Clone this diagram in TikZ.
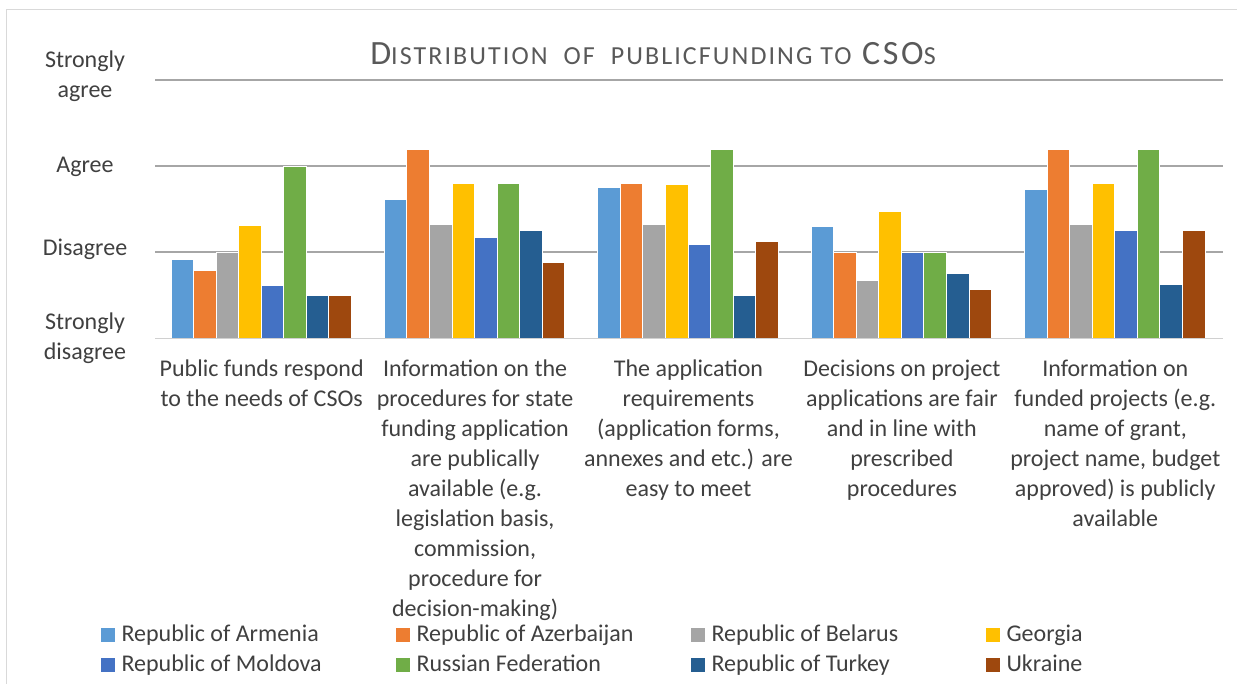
\documentclass[tikz,border=0pt]{standalone}
\usepackage{fontspec}
\setmainfont{Carlito}
\newfontfamily\titlefont[LetterSpace=8]{Carlito}
\usepackage{xcolor}
\usetikzlibrary{positioning}

\definecolor{ser0}{HTML}{5B9BD5}
\definecolor{ser1}{HTML}{ED7D31}
\definecolor{ser2}{HTML}{A5A5A5}
\definecolor{ser3}{HTML}{FFC000}
\definecolor{ser4}{HTML}{4472C4}
\definecolor{ser5}{HTML}{70AD47}
\definecolor{ser6}{HTML}{255E91}
\definecolor{ser7}{HTML}{9E480E}
\definecolor{txt}{HTML}{404040}
\definecolor{titc}{HTML}{595959}
\definecolor{gridc}{HTML}{A6A6A6}
\definecolor{basec}{HTML}{D0D0D0}
\definecolor{framec}{HTML}{D9D9D9}
\newcommand{\smc}[1]{{\fontsize{19.5}{22}\selectfont #1}}

\begin{document}
\begin{tikzpicture}[x=0.75pt, y=-0.75pt, font=\fontsize{18}{22.5}\selectfont,
		lbl/.style={align=center, inner sep=0pt, text=txt},
		bar/.style={draw=white, line width=0.4pt},
		key/.style={minimum size=10.5pt, inner sep=0pt}]
		\useasboundingbox (0,0) rectangle (1237,684);
		\fill[white] (0,0) rectangle (1237,684);
		\draw[framec, line width=1.1pt] (6.5,684) -- (6.5,9.5) -- (1237,9.5);
		\node[anchor=base, inner sep=0pt, text=titc] (title) at (653,65) {\titlefont\fontsize{25.5}{30}\selectfont D\smc{ISTRIBUTION\ \ OF\ \ PUBLICFUNDING TO} CSO\smc{S}};
		\foreach \y in {80,166,252}
			\draw[gridc, line width=1.1pt] (155,\y) -- (1223,\y);
		\node[lbl, anchor=north] (ylsa) at (85,50.7) {Strongly\\agree};
		\node[lbl, anchor=base] (yla) at (85,173) {Agree};
		\node[lbl, anchor=base] (yld) at (85,255) {Disagree};
		\node[lbl, anchor=north] (ylsd) at (85,312.2) {Strongly\\disagree};
		\foreach \vals [count=\g from 0] in {
			{1.92,1.79,2.00,2.31,1.62,3.00,1.50,1.50},
			{2.62,3.20,2.33,2.80,2.17,2.80,2.25,1.88},
			{2.75,2.80,2.33,2.79,2.09,3.20,1.50,2.13},
			{2.30,2.00,1.67,2.47,2.00,2.00,1.75,1.57},
			{2.73,3.20,2.33,2.80,2.25,3.20,1.63,2.25}}
			\foreach \v [count=\s from 0] in \vals {
				\pgfmathsetmacro\xa{170.8+213.4*\g+22.55*\s}
				\pgfmathsetmacro\yt{338.3-86.1*(\v-1)}
				\draw[bar, fill=ser\s] (\xa,338.3) rectangle ({\xa+22.55},\yt);
			}
		\draw[basec, line width=1.1pt] (155,338.3) -- (1223,338.3);
		\foreach \t [count=\i from 0] in {
			{Public funds respond\\to the needs of CSOs},
			{Information on the\\procedures for state\\funding application\\are publically\\available (e.g.\\legislation basis,\\commission,\\procedure for\\decision-making)},
			{The application\\requirements\\(application forms,\\annexes and etc.) are\\easy to meet},
			{Decisions on project\\applications are fair\\and in line with\\prescribed\\procedures},
			{Information on\\funded projects (e.g.\\name of grant,\\project name, budget\\approved) is publicly\\available}}
			\node[lbl, anchor=north] (cat\i) at ({261.7+213.4*\i},359.7) {\t};
		\foreach \t [count=\i from 0] in {Republic of Armenia, Republic of Azerbaijan, Republic of Belarus, Georgia,
			Republic of Moldova, Russian Federation, Republic of Turkey, Ukraine} {
			\pgfmathtruncatemacro\col{mod(\i,4)}
			\pgfmathtruncatemacro\row{\i/4}
			\node[key, fill=ser\i] (key\i) at ({108+295*\col},{634.7+30*\row}) {};
			\node[lbl, anchor=base west] (lg\i) at ([xshift=4.5pt]key\i.south east) {\t};
		}
	\end{tikzpicture}
\end{document}
